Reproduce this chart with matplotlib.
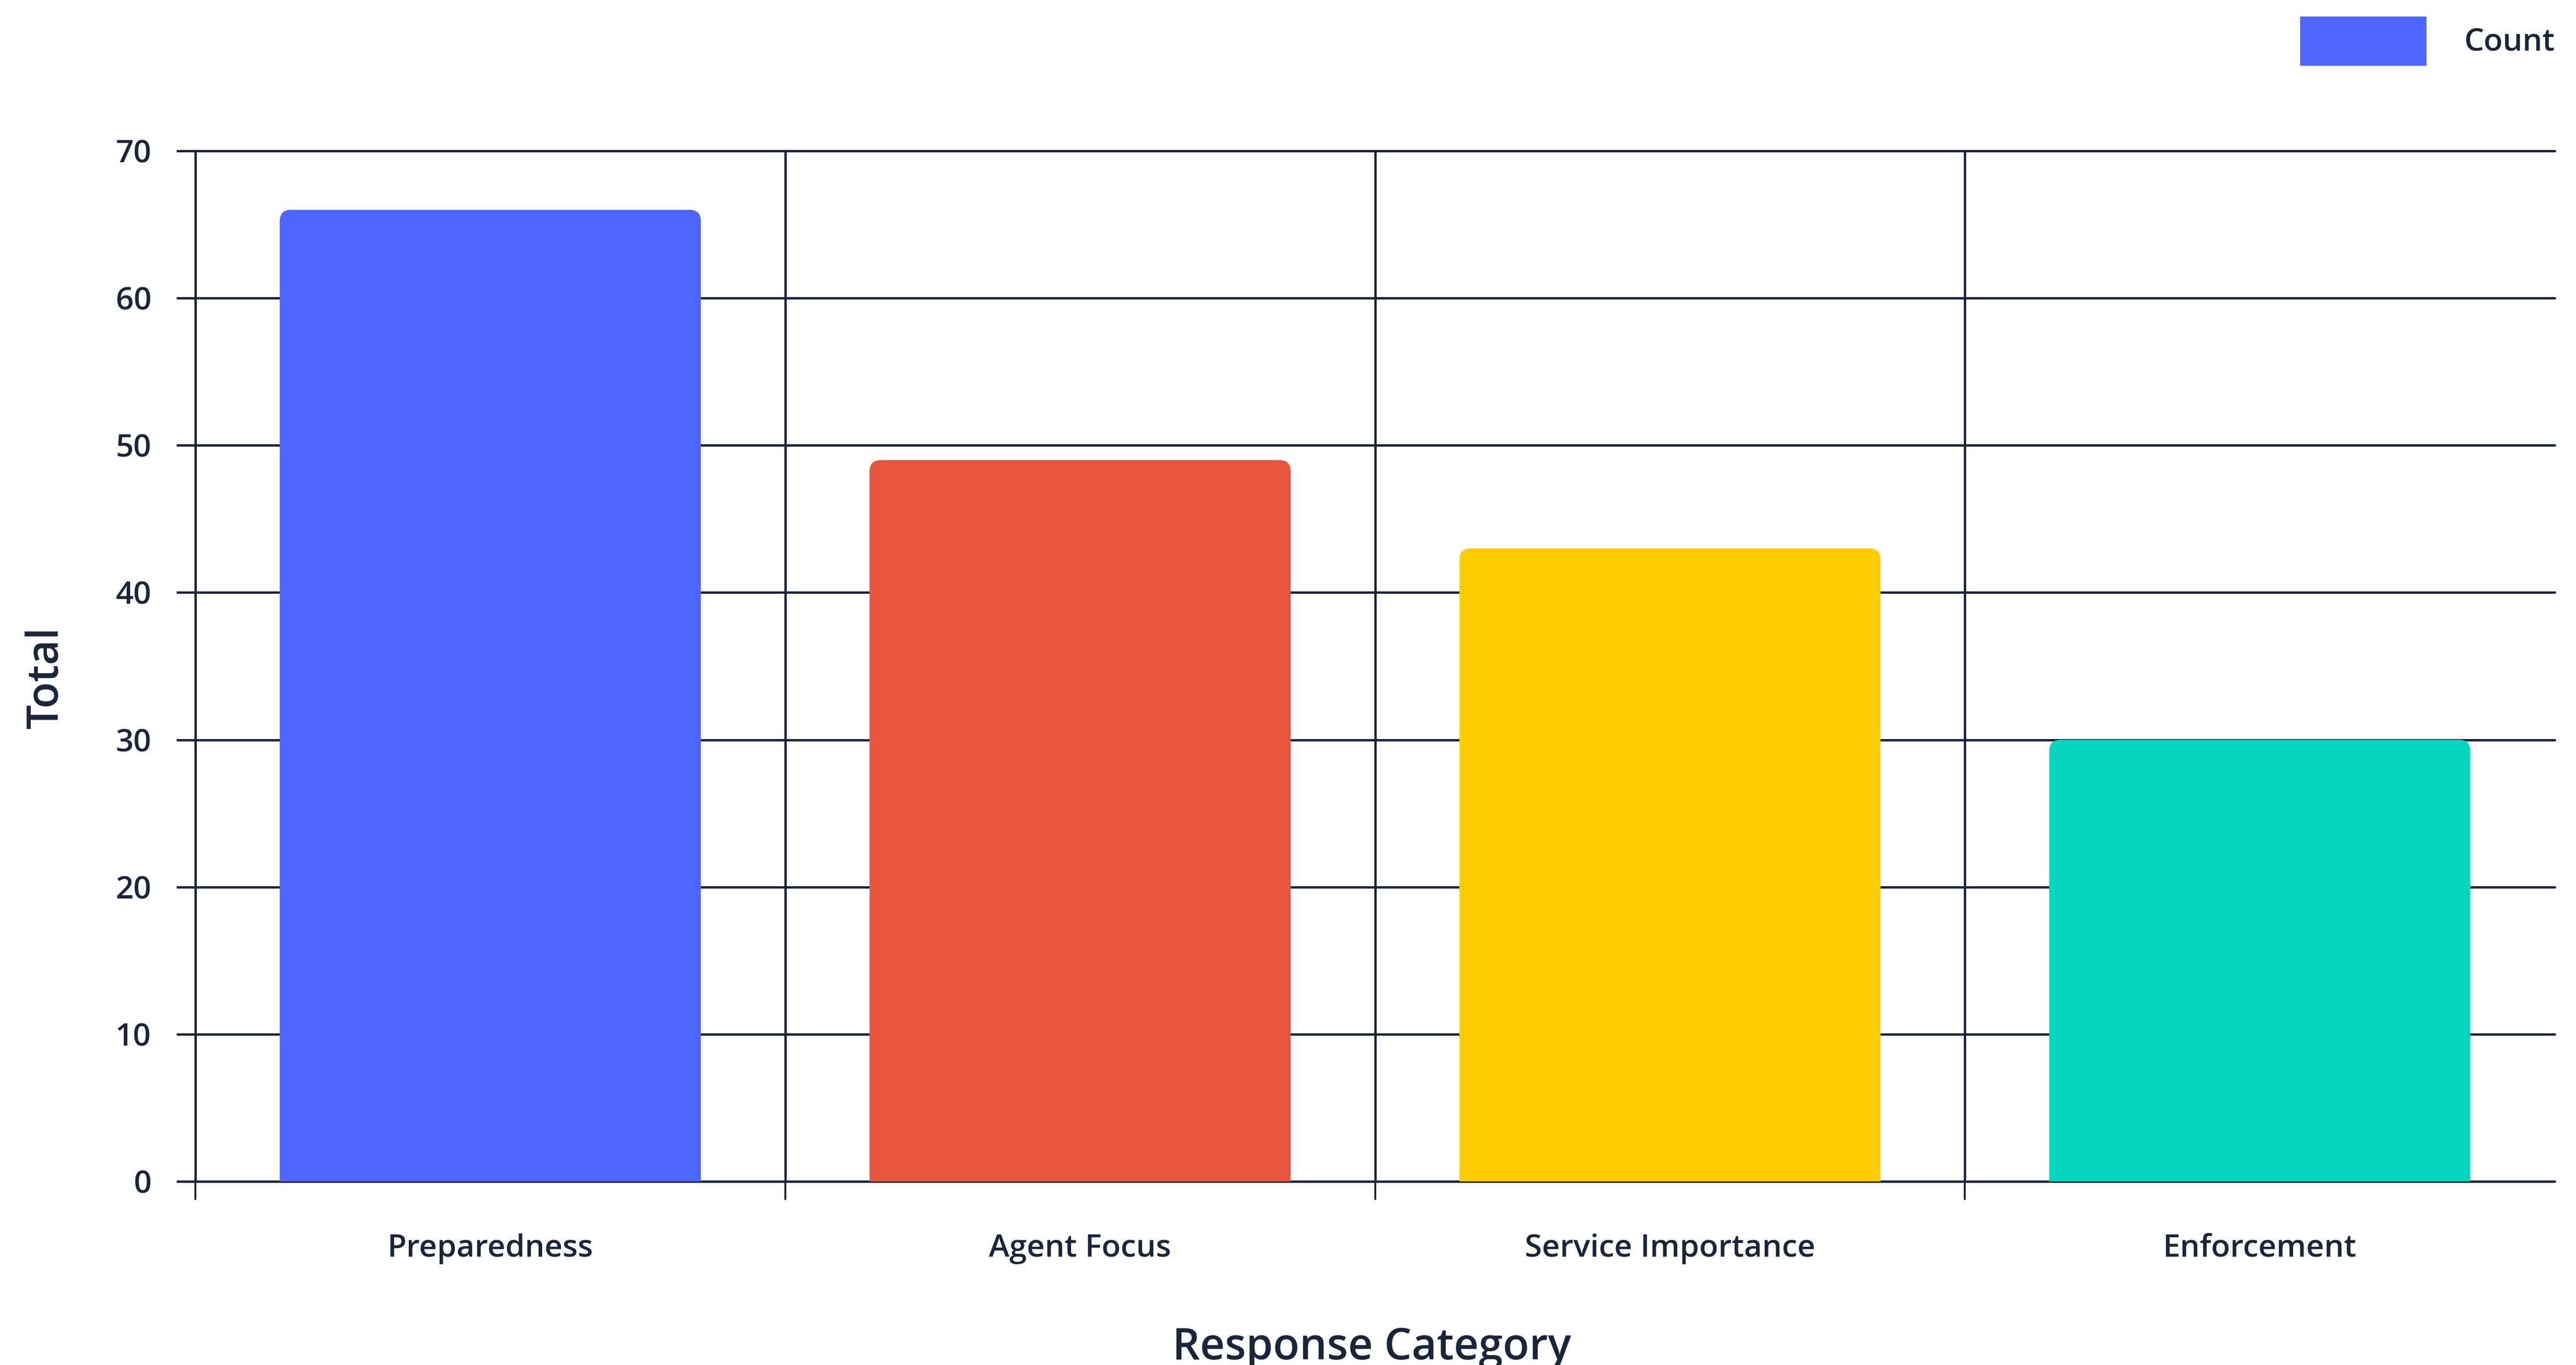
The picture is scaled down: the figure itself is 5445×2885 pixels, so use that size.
import matplotlib
matplotlib.use("Agg")
import matplotlib.pyplot as plt
from matplotlib.patches import FancyBboxPatch, Patch
from matplotlib.ticker import FixedLocator

categories = ["Preparedness", "Agent Focus", "Service Importance", "Enforcement"]
counts = [66, 49, 43, 30]
bar_colors = ["#4F65FF", "#E6563F", "#FFCC00", "#06D6BE"]
yticks = [0, 10, 20, 30, 40, 50, 60, 70]
series_name = "Count"
x_title = "Response Category"
y_title = "Total"

TEXT = "#1B253A"
plt.rcParams['font.family'] = ['Open Sans', 'DejaVu Sans']

W, H, DPI = 5445, 2885, 100
fig = plt.figure(figsize=(W / DPI, H / DPI), dpi=DPI)
fig.patch.set_facecolor("white")

left, right, top, bottom = 413, 5400, 319, 2497
ax = fig.add_axes([left / W, 1 - bottom / H, (right - left) / W, (bottom - top) / H])
ax.set_facecolor("white")

xs = list(range(len(categories)))
bars = ax.bar(xs, counts, width=0.714, color=bar_colors, label=series_name, zorder=3)

ax.set_xlim(-0.5, len(categories) - 0.5)
ax.set_ylim(0, 70)

# rounded top corners
px_per_x = (right - left) / (len(categories))
px_per_y = (bottom - top) / 70.0
r_px = 24
rx = r_px / px_per_x
ry = r_px / px_per_y
for rect, c in zip(bars, bar_colors):
    rect.set_visible(False)
    x0, w, h = rect.get_x(), rect.get_width(), rect.get_height()
    fb = FancyBboxPatch((x0, -ry), w, h + ry,
                        boxstyle=f"round,pad=0,rounding_size={rx}",
                        mutation_aspect=ry / rx,
                        facecolor=c, edgecolor="none", zorder=3)
    ax.add_patch(fb)

lw = 3.6
# horizontal gridlines
for yv in yticks:
    ax.axhline(yv, color=TEXT, lw=lw, zorder=2, clip_on=False,
               solid_capstyle='round')
# vertical boundaries
bounds = [i - 0.5 for i in range(len(categories))]
for b in bounds[1:]:
    ax.axvline(b, color=TEXT, lw=lw, zorder=2, clip_on=False)

for s in ["top", "right", "bottom"]:
    ax.spines[s].set_visible(False)
ax.spines["left"].set_color(TEXT)
ax.spines["left"].set_linewidth(lw)
ax.spines["left"].set_zorder(2)

ax.set_yticks(yticks)
ax.set_yticklabels([str(v) for v in yticks], fontweight=600)
ax.tick_params(axis='y', length=29, width=lw, color=TEXT, pad=38,
               labelsize=47.5, labelcolor=TEXT, direction='out')

ax.set_xticks(xs)
ax.set_xticklabels(categories, fontweight=600)
ax.xaxis.set_minor_locator(FixedLocator(bounds))
ax.tick_params(axis='x', which='major', length=0, pad=79,
               labelsize=47.5, labelcolor=TEXT)
ax.tick_params(axis='x', which='minor', length=28, width=lw * 0.8, color=TEXT,
               direction='out')

fig.text(2900 / W, 1 - 2873 / H, x_title, ha='center', va='baseline',
         fontsize=66, fontweight=600, color=TEXT)
fig.text(122 / W, 1 - 1432 / H, y_title, ha='center', va='baseline',
         rotation=90, rotation_mode='anchor',
         fontsize=66, fontweight=600, color=TEXT)

handle = Patch(facecolor=bar_colors[0], edgecolor='none')
leg = fig.legend([handle], [series_name], loc='upper right',
                 bbox_to_anchor=(5400 / W, 1 - 35 / H), frameon=False,
                 fontsize=47.5, labelcolor=TEXT, handlelength=4.05,
                 handleheight=2.05, handletextpad=1.2, borderpad=0,
                 borderaxespad=0)
for t in leg.get_texts():
    t.set_fontweight(600)

fig.savefig("out.png", dpi=DPI, facecolor="white")
